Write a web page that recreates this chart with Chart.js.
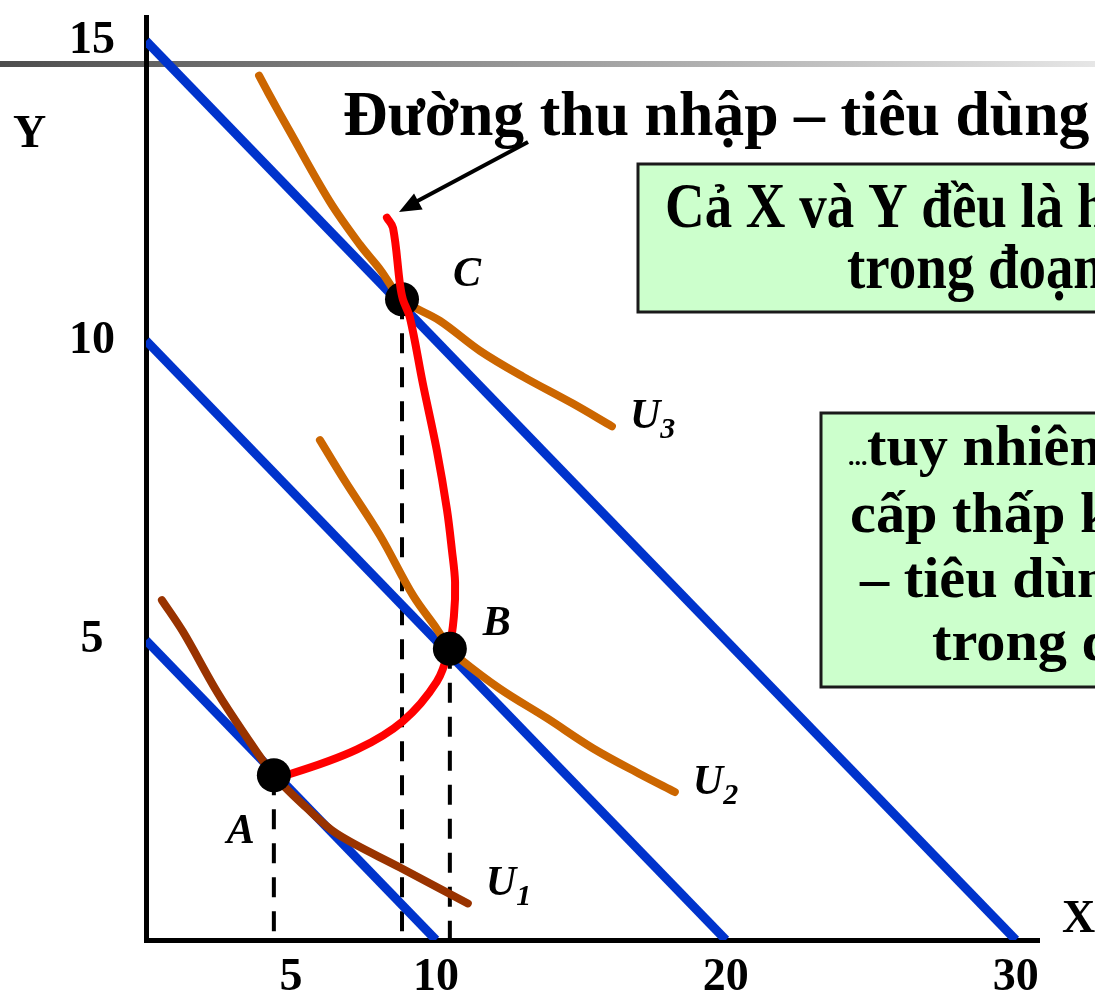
<!DOCTYPE html>
<html>
<head>
<meta charset="utf-8">
<script src="https://cdn.jsdelivr.net/npm/chart.js@4.4.0/dist/chart.umd.min.js"></script>
<style>
  html, body { margin: 0; padding: 0; background: #fff; }
  #wrap { width: 1095px; height: 998px; position: relative; overflow: hidden; }
</style>
</head>
<body>
<div id="wrap"><canvas id="icc" width="1095" height="998"></canvas></div>
<script>
// axis ticks
const xTicks = [5, 10, 20, 30];
const yTicks = [5, 10, 15];

// budget lines (intercepts on each axis)
const budgetXIntercepts = [10, 20, 30];
const budgetYIntercepts = [5, 10, 15];

// indifference curves
const u1X = [0.55, 1.28, 2.45, 3.34, 4.41, 5.55, 6.59, 8.76, 11.1];
const u1Y = [5.67, 5.14, 4.14, 3.48, 2.75, 2.2, 1.77, 1.21, 0.61];
const u2X = [6.0, 6.86, 8.07, 9.21, 10.03, 10.48, 10.83, 12.21, 13.83, 15.41, 17.03, 18.24];
const u2Y = [8.34, 7.66, 6.75, 5.75, 5.19, 4.86, 4.69, 4.19, 3.7, 3.2, 2.77, 2.47];
const u3X = [3.9, 4.21, 4.97, 6.34, 7.38, 8.07, 8.83, 10.14, 11.52, 13.0, 14.72, 16.07];
const u3Y = [14.42, 14.14, 13.48, 12.32, 11.6, 11.19, 10.69, 10.33, 9.83, 9.4, 8.95, 8.57];

// income-consumption curve
const iccX = [4.41, 4.97, 7.28, 8.86, 10.03, 10.45, 10.62, 10.66, 10.55, 10.38, 10.03, 9.55, 9.1, 8.86, 8.76, 8.52, 8.31];
const iccY = [2.75, 2.77, 3.18, 3.65, 4.31, 4.86, 5.4, 5.97, 6.51, 7.18, 8.17, 9.28, 10.39, 10.69, 10.94, 11.88, 12.05];

// optimum points
const pointNames = ['A', 'B', 'C'];
const pointX = [4.41, 10.48, 8.83];
const pointY = [2.75, 4.86, 10.69];

const curveNames = ['U1', 'U2', 'U3'];

const serif = "'Liberation Serif', 'Times New Roman', serif";
const xy = (xs, ys) => xs.map((x, i) => ({ x: x, y: ys[i] }));

function fitText(ctx, text, x, y, size, refPart, refWidth, style) {
  ctx.save();
  ctx.font = (style || 'bold') + ' ' + size + 'px ' + serif;
  const sx = refPart ? refWidth / ctx.measureText(refPart).width : 1;
  ctx.translate(x, y);
  ctx.scale(sx, 1);
  ctx.textAlign = 'left';
  ctx.textBaseline = 'alphabetic';
  ctx.fillStyle = '#000';
  ctx.fillText(text, 0, 0);
  ctx.restore();
}

function curveLabel(ctx, name, x, y) {
  ctx.save();
  ctx.fillStyle = '#000';
  ctx.textBaseline = 'alphabetic';
  ctx.font = 'bold italic 42px ' + serif;
  ctx.fillText(name[0], x, y);
  const w = ctx.measureText(name[0]).width;
  ctx.font = 'bold italic 30px ' + serif;
  ctx.fillText(name.slice(1), x + w, y + 10);
  ctx.restore();
}

const slideDecor = {
  id: 'slideDecor',
  beforeDraw(chart) {
    const ctx = chart.ctx;
    // grey slide rule
    const g = ctx.createLinearGradient(0, 0, 1095, 0);
    g.addColorStop(0, '#4d4d4d');
    g.addColorStop(0.4, '#8c8c8c');
    g.addColorStop(1, '#e6e6e6');
    ctx.save();
    ctx.fillStyle = g;
    ctx.fillRect(0, 61, 1095, 6);
    ctx.restore();
  },
  afterDraw(chart) {
    const ctx = chart.ctx;
    const xs = chart.scales.x, ys = chart.scales.y;

    // axis names
    fitText(ctx, 'Y', 13, 147, 46);
    fitText(ctx, 'X', 1062, 932, 46);

    // point labels
    const offs = [[-47, 68], [33, -14], [51, -13]];
    pointNames.forEach((n, i) => {
      const px = xs.getPixelForValue(pointX[i]) + offs[i][0];
      const py = ys.getPixelForValue(pointY[i]) + offs[i][1];
      ctx.save();
      ctx.fillStyle = '#000';
      ctx.font = 'bold italic 42px ' + serif;
      ctx.fillText(n, px, py);
      ctx.restore();
    });

    // curve labels at the curve ends
    const ends = [[u1X, u1Y, -8], [u2X, u2Y, 2], [u3X, u3Y, 2]];
    ends.forEach((e, i) => {
      const last = e[0].length - 1;
      const px = xs.getPixelForValue(e[0][last]) + 18;
      const py = ys.getPixelForValue(e[1][last]) + e[2];
      curveLabel(ctx, curveNames[i], px, py);
    });

    // title
    fitText(ctx, 'Đường thu nhập – tiêu dùng', 343, 135, 64, 'Đường thu nhập – tiêu', 597);

    // arrow
    ctx.save();
    ctx.strokeStyle = '#000';
    ctx.fillStyle = '#000';
    ctx.lineWidth = 4;
    ctx.beginPath();
    ctx.moveTo(528, 142);
    ctx.lineTo(410, 205);
    ctx.stroke();
    const ang = Math.atan2(212 - 142, 399 - 528);
    ctx.translate(399, 212);
    ctx.rotate(ang);
    ctx.beginPath();
    ctx.moveTo(0, 0);
    ctx.lineTo(-22, -9);
    ctx.lineTo(-22, 9);
    ctx.closePath();
    ctx.fill();
    ctx.restore();

    // green note boxes
    ctx.save();
    ctx.fillStyle = '#ccffcc';
    ctx.strokeStyle = '#1a1a1a';
    ctx.lineWidth = 3;
    ctx.fillRect(638, 164, 600, 148);
    ctx.strokeRect(638, 164, 600, 148);
    ctx.fillRect(821, 413, 400, 274);
    ctx.strokeRect(821, 413, 400, 274);
    ctx.restore();

    fitText(ctx, 'Cả X và Y đều là hàng thông thường', 665, 227, 64, 'Cả X và Y đều là ', 412);
    fitText(ctx, 'trong đoạn AB', 847, 288, 64, 'Cả X và Y đều là ', 412);

    fitText(ctx, '...', 848, 465, 26);
    fitText(ctx, 'tuy nhiên, X là hàng', 867, 465, 56, 'cấp thấp ', 230);
    fitText(ctx, 'cấp thấp khi đường thu nhập', 850, 532, 56, 'cấp thấp ', 230);
    fitText(ctx, '– tiêu dùng vòng ngược lại', 860, 597, 56, 'cấp thấp ', 230);
    fitText(ctx, 'trong đoạn BC', 932, 660, 56, 'cấp thấp ', 230);
  }
};

const budgetSets = budgetXIntercepts.map((bx, i) => ({
  data: [{ x: 0, y: budgetYIntercepts[i] }, { x: bx, y: 0 }],
  showLine: true, borderColor: '#0033cc', borderWidth: 9, pointRadius: 0,
  borderCapStyle: 'butt', tension: 0
}));

const dashSets = pointX.map((px, i) => ({
  data: [{ x: px, y: pointY[i] }, { x: px, y: 0 }],
  showLine: true, borderColor: '#000', borderWidth: 4, borderDash: [20, 14],
  pointRadius: 0, tension: 0
}));

const curve = (data, color) => ({
  data: data, showLine: true, borderColor: color, borderWidth: 8,
  pointRadius: 0, tension: 0.35, borderCapStyle: 'round', borderJoinStyle: 'round'
});

const dots = idx => ({
  data: idx.map(i => ({ x: pointX[i], y: pointY[i] })),
  pointRadius: 17, pointBackgroundColor: '#000', pointBorderWidth: 0, showLine: false
});

new Chart(document.getElementById('icc'), {
  type: 'scatter',
  data: {
    datasets: [
      dots([0, 1]),
      curve(xy(iccX, iccY), '#ff0000'),
      dots([2]),
      curve(xy(u3X, u3Y), '#cc6600'),
      curve(xy(u2X, u2Y), '#cc6600'),
      curve(xy(u1X, u1Y), '#993300'),
      ...budgetSets,
      ...dashSets
    ]
  },
  options: {
    responsive: false,
    animation: false,
    events: [],
    layout: { padding: { top: 11, right: 56, left: 0, bottom: 0 } },
    plugins: { legend: { display: false }, tooltip: { enabled: false } },
    scales: {
      x: {
        type: 'linear',
        min: 0,
        max: 30.8,
        afterBuildTicks: s => { s.ticks = xTicks.map(v => ({ value: v })); },
        afterFit: s => { s.height = 58; s.paddingLeft = 0; s.paddingRight = 0; },
        grid: { display: false, drawTicks: false },
        border: { display: true, color: '#000', width: 5 },
        ticks: {
          color: '#000', padding: 11, autoSkip: false, maxRotation: 0,
          font: { family: serif, weight: 'bold', size: 46 }
        }
      },
      y: {
        type: 'linear',
        min: 0,
        max: 15.4,
        afterBuildTicks: s => { s.ticks = yTicks.map(v => ({ value: v })); },
        afterFit: s => { s.width = 146; s.paddingTop = 0; s.paddingBottom = 0; },
        grid: { display: false, drawTicks: false },
        border: { display: true, color: '#000', width: 5 },
        ticks: {
          color: '#000', padding: 31, crossAlign: 'center',
          font: { family: serif, weight: 'bold', size: 46 }
        }
      }
    }
  },
  plugins: [slideDecor]
});
</script>
</body>
</html>
